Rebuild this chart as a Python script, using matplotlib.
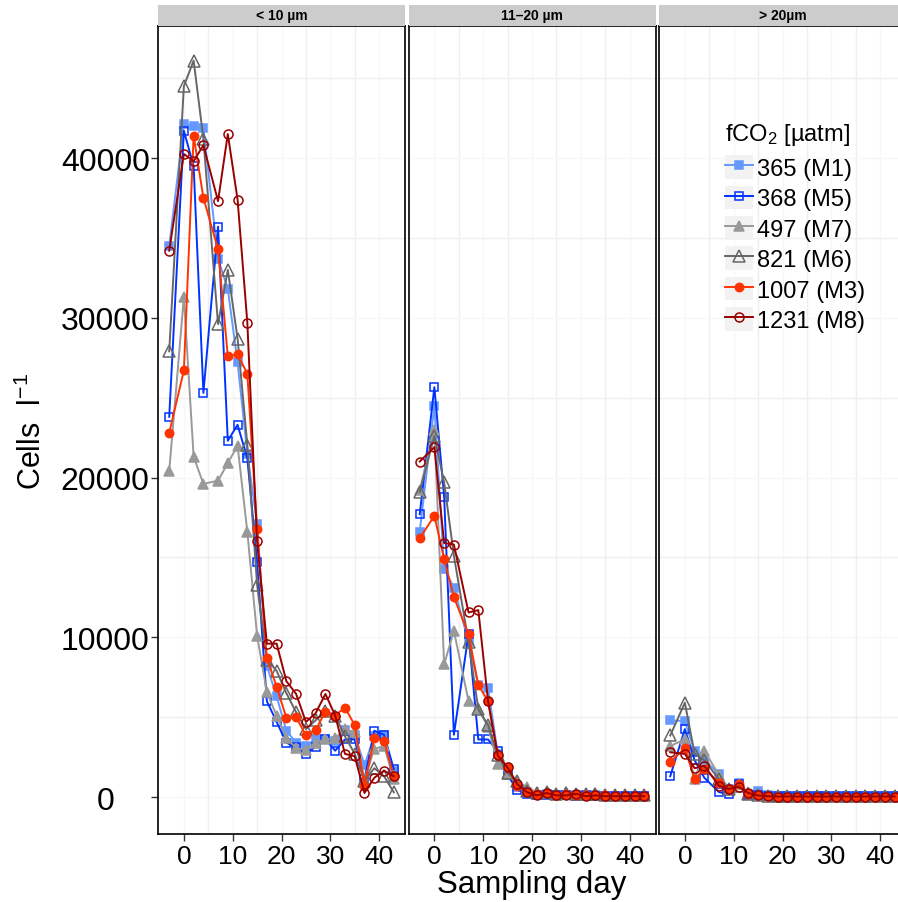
import matplotlib
matplotlib.use('Agg')
import matplotlib.pyplot as plt
from matplotlib.lines import Line2D
from matplotlib.patches import Rectangle
from matplotlib.legend_handler import HandlerTuple

plt.rcParams['font.family'] = ['Liberation Sans', 'DejaVu Sans']
plt.rcParams['mathtext.default'] = 'regular'

# sampling days
days = [-3, 0, 2, 4, 7, 9, 11, 13, 15, 17, 19, 21, 23, 25, 27, 29, 31, 33, 35, 37, 39, 41, 43]

size_classes = ['< 10 µm', '11–20 µm', '> 20µm']
labels = ['365 (M1)', '368 (M5)', '497 (M7)', '821 (M6)', '1007 (M3)', '1231 (M8)']
colors = ['#6699FF', '#0033FF', '#999999', '#666666', '#FF3300', '#990000']
markers = ['s', 's', '^', '^', 'o', 'o']
filled = [True, False, True, False, True, False]
msizes = [6, 6, 7, 8, 6, 6.5]

# cells per litre, < 10 µm
small_m1 = [34500, 42100, 42000, 41900, 33700, 31800, 27200, 21500, 17100, 8200, 6300, 4150,
            3400, 3200, 3600, 3600, 3500, 4200, 3900, 2000, 3800, 3900, 1600]
small_m5 = [23800, 41700, 39500, 25300, 35700, 22300, 23300, 21200, 14700, 6000, 4700, 3400,
            3100, 2700, 3150, 3600, 2900, 3600, 3600, 1100, 4150, 3900, 1750]
small_m7 = [20400, 31300, 21300, 19600, 19800, 20900, 22000, 16600, 10100, 6550, 5100, 3700,
            3050, 2950, 3400, 3600, 3700, 4250, 4050, 1100, 3000, 3200, 1100]
small_m6 = [27900, 44500, 46100, 41200, 29600, 33000, 28700, 22050, 13300, 8600, 7900, 6500,
            5300, 4250, 4800, 5400, 5100, 3800, 2700, 1000, 1800, 1300, 300]
small_m3 = [22800, 26700, 41400, 37500, 34300, 27600, 27700, 26500, 16800, 8700, 6900, 4950,
            5000, 3850, 4200, 5350, 5100, 5600, 4500, 700, 3700, 3500, 1300]
small_m8 = [34200, 40250, 39800, 40800, 37300, 41500, 37400, 29700, 16000, 9600, 9600, 7250,
            6450, 4700, 5250, 6450, 5100, 2700, 2550, 250, 1200, 1650, 1300]

# 11-20 µm
mid_m1 = [16600, 24500, 14300, 13100, 9700, 7000, 6800, 2700, 1350, 650, 300, 150,
          200, 100, 150, 100, 50, 100, 50, 50, 50, 50, 50]
mid_m5 = [17700, 25650, 18800, 3900, 10200, 3600, 3600, 2850, 1350, 450, 200, 100,
          150, 100, 100, 50, 100, 50, 50, 50, 50, 50, 50]
mid_m7 = [19200, 23000, 8300, 10400, 6000, 5500, 4400, 2050, 1450, 1000, 600, 300,
          250, 200, 300, 200, 200, 250, 150, 150, 150, 150, 150]
mid_m6 = [19100, 22600, 19700, 15100, 9700, 5500, 4500, 2600, 1500, 1000, 400, 250,
          300, 200, 250, 200, 200, 200, 150, 100, 100, 100, 100]
mid_m3 = [16200, 17600, 14900, 12500, 10200, 7000, 6000, 2600, 1900, 700, 300, 200,
          250, 150, 200, 100, 150, 100, 100, 50, 50, 50, 50]
mid_m8 = [21000, 21900, 15900, 15800, 11550, 11700, 6000, 2600, 1850, 800, 300, 100,
          250, 100, 100, 200, 50, 100, 50, 50, 50, 50, 50]

# > 20 µm
large_m1 = [4800, 4750, 2850, 2300, 1450, 500, 900, 200, 400, 100, 50, 50,
            50, 50, 50, 50, 50, 50, 50, 50, 50, 50, 50]
large_m5 = [1300, 4250, 2300, 1200, 300, 200, 800, 100, 100, 50, 50, 50,
            50, 50, 50, 50, 50, 50, 50, 50, 50, 50, 50]
large_m7 = [3200, 3600, 1100, 2900, 1350, 500, 800, 300, 200, 100, 50, 50,
            50, 50, 50, 50, 50, 50, 50, 50, 50, 50, 50]
large_m6 = [3850, 5900, 2700, 2300, 1100, 500, 700, 200, 150, 50, 50, 50,
            50, 50, 50, 50, 50, 50, 50, 50, 50, 50, 50]
large_m3 = [2200, 3050, 1100, 1750, 900, 500, 800, 200, 100, 50, 30, 30,
            30, 30, 30, 30, 30, 30, 30, 30, 30, 30, 30]
large_m8 = [2800, 2700, 1800, 1950, 700, 500, 650, 250, 100, 50, 30, 30,
            30, 30, 30, 30, 30, 30, 30, 30, 30, 30, 30]

panels = [
    [small_m1, small_m5, small_m7, small_m6, small_m3, small_m8],
    [mid_m1, mid_m5, mid_m7, mid_m6, mid_m3, mid_m8],
    [large_m1, large_m5, large_m7, large_m6, large_m3, large_m8],
]

W, H = 898, 903
fig = plt.figure(figsize=(W / 100, H / 100), dpi=100)

lefts = [158, 408.5, 659]
pw = 247
top, bottom = 27, 835

for i, (left, series) in enumerate(zip(lefts, panels)):
    ax = fig.add_axes([left / W, 1 - bottom / H, pw / W, (bottom - top) / H])
    ax.set_xlim(-5.3, 45.3)
    ax.set_ylim(-2316, 48263)
    for x in [5, 15, 25, 35]:
        ax.axvline(x, color='#EFEFEF', lw=1, zorder=0)
    for x in [0, 10, 20, 30, 40]:
        ax.axvline(x, color='#F7F7F7', lw=1, zorder=0)
    for y in [5000, 15000, 25000, 35000, 45000]:
        ax.axhline(y, color='#EFEFEF', lw=1, zorder=0)
    for y in [0, 10000, 20000, 30000, 40000]:
        ax.axhline(y, color='#F7F7F7', lw=1, zorder=0)

    for vals, c, m, f, ms in zip(series, colors, markers, filled, msizes):
        ax.plot(days, vals, color=c, lw=1.4, marker=m, markersize=ms,
                markerfacecolor=c if f else 'none', markeredgecolor=c,
                markeredgewidth=1.1, zorder=3)

    for s in ax.spines.values():
        s.set_color('black')
        s.set_linewidth(1.2)
    ax.set_xticks([0, 10, 20, 30, 40])
    ax.tick_params(axis='x', length=5, width=1, color='#333333', labelsize=19, pad=2)
    ax.set_yticks([0, 10000, 20000, 30000, 40000])
    if i == 0:
        ax.tick_params(axis='y', length=5, width=1, color='#333333', labelsize=23, pad=33)
        for lab in ax.get_yticklabels():
            lab.set_horizontalalignment('center')
    else:
        ax.tick_params(axis='y', length=0, labelleft=False)

    strip = fig.add_axes([left / W, 1 - top / H, pw / W, 21 / H])
    strip.set_facecolor('#CCCCCC')
    strip.set_xticks([])
    strip.set_yticks([])
    for s in strip.spines.values():
        s.set_visible(False)
    strip.text(0.5, 0.5, size_classes[i], ha='center', va='center',
               fontsize=10, fontweight='bold', transform=strip.transAxes)

handles = []
for c, m, f, ms in zip(colors, markers, filled, msizes):
    bg = Rectangle((0, 0), 1, 1, facecolor='#F2F2F2', edgecolor='none')
    ln = Line2D([], [], color=c, lw=1.4, marker=m, markersize=ms,
                markerfacecolor=c if f else 'none', markeredgecolor=c, markeredgewidth=1.1)
    handles.append((bg, ln))

leg = fig.legend(handles, labels, loc='upper left', bbox_to_anchor=(725 / W, 1 - 122 / H),
                 title='fCO$_2$ [µatm]', title_fontsize=17, fontsize=17, frameon=False,
                 handler_map={tuple: HandlerTuple(ndivide=1, pad=0)},
                 handlelength=1.2, handleheight=1.15, handletextpad=0.15,
                 labelspacing=0.24, borderpad=0, borderaxespad=0, alignment='left')
leg._legend_box.sep = 6

fig.text(32 / W, 1 - 431 / H, 'Cells  l$^{-1}$', rotation=90, fontsize=22,
         ha='center', va='center')
fig.text(532 / W, 1 - 885 / H, 'Sampling day', fontsize=22.5, ha='center', va='center')

fig.savefig('out.png', dpi=100)
